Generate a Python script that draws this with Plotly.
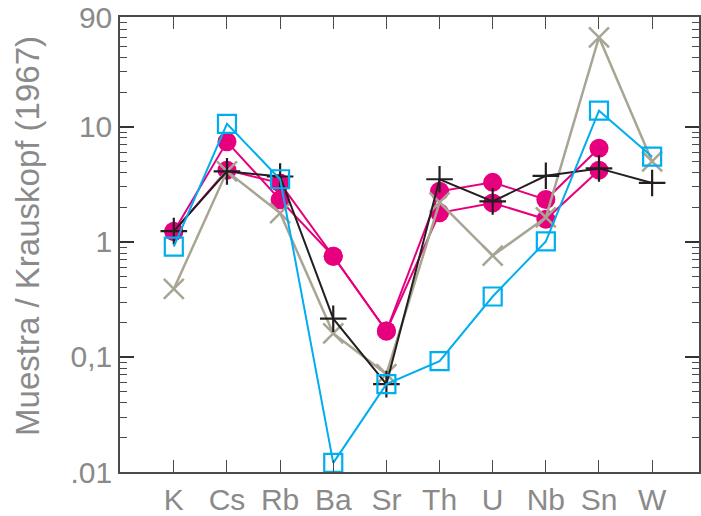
import plotly.graph_objects as go

elements = ["K", "Cs", "Rb", "Ba", "Sr", "Th", "U", "Nb", "Sn", "W"]

magenta_a = [1.23, 7.4, 2.32, 0.75, 0.168, 2.75, 3.29, 2.33, 6.5, None]
magenta_b = [1.23, 4.2, 3.24, 0.75, 0.168, 1.79, 2.18, 1.57, 4.2, None]
gray_x = [0.39, 4.1, 1.78, 0.16, 0.071, 2.2, 0.76, 1.63, 60.0, 5.0]
black_plus = [1.24, 4.1, 3.7, 0.215, 0.058, 3.5, 2.25, 3.75, 4.35, 3.25]
cyan_sq = [0.91, 10.6, 3.5, 0.012, 0.058, 0.092, 0.335, 1.01, 13.8, 5.5]

y_tickvals = [0.01, 0.1, 1, 10, 90]
y_ticktext = [".01", "0,1", "1", "10", "90"]

MAG = "#e6007e"
GRAY = "#a9a593"
BLACK = "#231f20"
CYAN = "#00aeef"

fig = go.Figure()
for vals in (magenta_a, magenta_b):
    fig.add_trace(go.Scatter(
        x=elements, y=vals, mode="lines+markers",
        line=dict(color=MAG, width=2),
        marker=dict(symbol="circle", size=19, color=MAG),
        connectgaps=False, showlegend=False))
fig.add_trace(go.Scatter(
    x=elements, y=gray_x, mode="lines+markers",
    line=dict(color=GRAY, width=2.5),
    marker=dict(symbol="x-thin", size=20, line=dict(color=GRAY, width=2.5)),
    showlegend=False))
fig.add_trace(go.Scatter(
    x=elements, y=black_plus, mode="lines+markers",
    line=dict(color=BLACK, width=2),
    marker=dict(symbol="cross-thin", size=19, line=dict(color=BLACK, width=2.2)),
    showlegend=False))
fig.add_trace(go.Scatter(
    x=elements, y=cyan_sq, mode="lines+markers",
    line=dict(color=CYAN, width=2),
    marker=dict(symbol="square-open", size=18, color=CYAN, line=dict(color=CYAN, width=2.2)),
    showlegend=False))

W, H = 701, 516
left, top, bottom = 120, 17, 475
fig.update_layout(
    width=W, height=H,
    margin=dict(l=left, r=0, t=top, b=H - bottom),
    paper_bgcolor="white", plot_bgcolor="white",
    font=dict(family="Liberation Sans, Arial, sans-serif", color="#8a8a8a"),
    showlegend=False,
)
cat_w = 53.33
fig.update_xaxes(
    type="category", categoryorder="array", categoryarray=elements,
    range=[(left - 174) / cat_w, (W - 174) / cat_w],
    showgrid=False, zeroline=False,
    showline=True, linecolor="#4a4a4a", linewidth=1.5, mirror="allticks",
    ticks="inside", ticklen=12, tickwidth=1.3, tickcolor="#4a4a4a",
    tickfont=dict(size=30, color="#8a8a8a"),
)
fig.update_yaxes(
    type="log", range=[-2, 1.9542],
    tickmode="array", tickvals=y_tickvals, ticktext=y_ticktext,
    showgrid=False, zeroline=False,
    showline=True, linecolor="#4a4a4a", linewidth=1.5, mirror="allticks",
    ticks="inside", ticklen=14, tickwidth=1.5, tickcolor="#333333",
    tickfont=dict(size=30, color="#8a8a8a"),
    minor=dict(ticks="inside", ticklen=7, tickwidth=1.2, tickcolor="#4a4a4a",
               dtick="D1", showgrid=False),
)
fig.add_annotation(
    text="Muestra / Krauskopf (1967)", textangle=-90,
    xref="paper", yref="paper", x=(27 - left) / (W - left), y=(475 - 237) / (475 - 17),
    xanchor="center", yanchor="middle", showarrow=False,
    font=dict(size=33, color="#8a8a8a"),
)
fig.write_html("out.html")
